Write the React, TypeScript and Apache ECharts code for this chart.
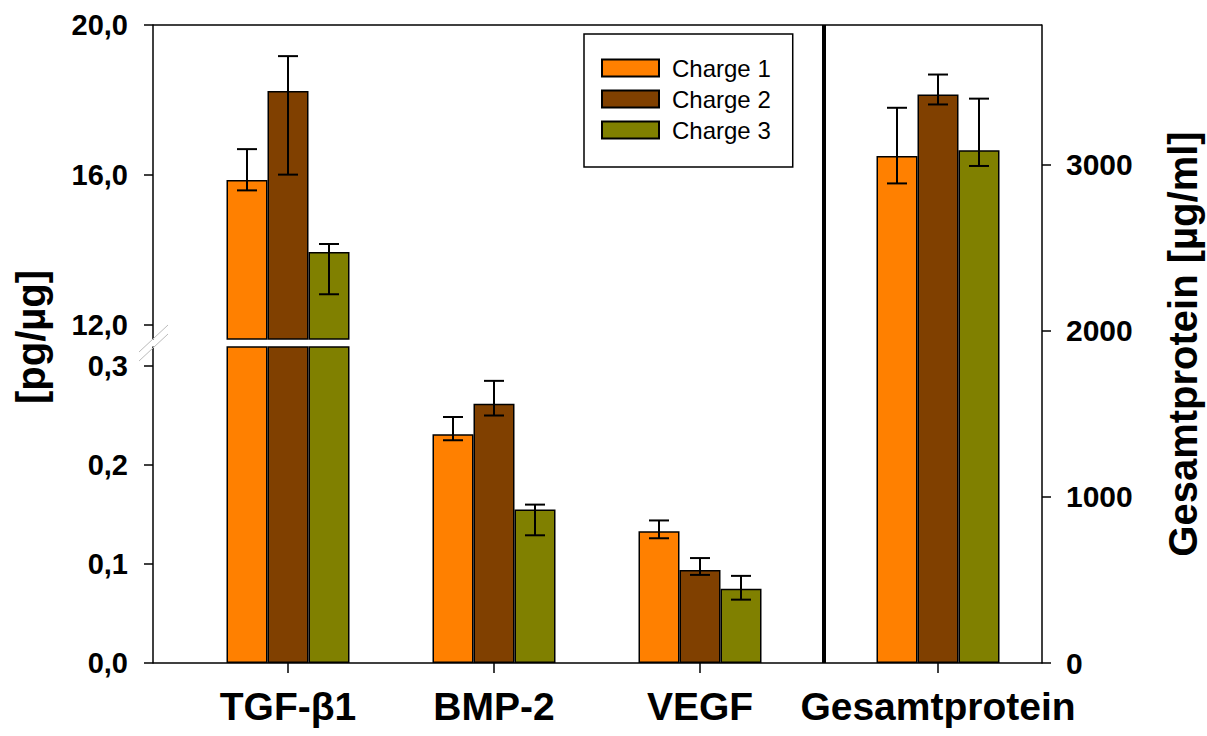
import React, { useEffect, useRef } from "react";
import * as echarts from "echarts";

// ---- data ----
const categories = ["TGF-β1", "BMP-2", "VEGF"];
const seriesNames = ["Charge 1", "Charge 2", "Charge 3"];
const colors = ["#FF8000", "#804000", "#808000"];

const charge1 = [15.87, 0.231, 0.133];
const charge2 = [18.24, 0.262, 0.094];
const charge3 = [13.95, 0.155, 0.075];
const charge1Low = [15.59, 0.225, 0.126];
const charge1High = [16.69, 0.2485, 0.144];
const charge2Low = [16.01, 0.25, 0.089];
const charge2High = [19.17, 0.285, 0.106];
const charge3Low = [12.82, 0.129, 0.064];
const charge3High = [14.16, 0.16, 0.088];

const totalCategory = ["Gesamtprotein"];
const totalValues = [3050, 3420, 3085];
const totalLow = [2885, 3360, 2990];
const totalHigh = [3340, 3540, 3395];

const lowerTicks = [0, 0.1, 0.2, 0.3];
const upperTicks = [12, 16, 20];
const rightTicks = [0, 1000, 2000, 3000];

const FONT = "Liberation Sans, Arial, sans-serif";
const BAR_W = 41;

export default function App() {
  const ref = useRef<HTMLDivElement>(null);

  useEffect(() => {
    if (!ref.current) return;
    const chart = echarts.init(ref.current, undefined, { renderer: "svg" });

    const values = [charge1, charge2, charge3];
    const lows = [charge1Low, charge2Low, charge3Low];
    const highs = [charge1High, charge2High, charge3High];

    const errRender = (offset: number) => (params: any, api: any) => {
      const x = api.value(0);
      const lo = api.coord([x, api.value(1)]);
      const hi = api.coord([x, api.value(2)]);
      const cx = lo[0] + offset;
      const cap = 10;
      const st = { stroke: "#000", lineWidth: 2 };
      return {
        type: "group",
        children: [
          { type: "line", shape: { x1: cx, y1: hi[1], x2: cx, y2: lo[1] }, style: st },
          { type: "line", shape: { x1: cx - cap, y1: hi[1], x2: cx + cap, y2: hi[1] }, style: st },
          { type: "line", shape: { x1: cx - cap, y1: lo[1], x2: cx + cap, y2: lo[1] }, style: st },
        ],
      };
    };

    const barStyle = (i: number) => ({
      color: colors[i],
      borderColor: "#000",
      borderWidth: 1.5,
    });

    const series: any[] = [];
    // lower grid (index 0) bars: all categories
    for (let i = 0; i < 3; i++) {
      series.push({
        type: "bar",
        name: seriesNames[i],
        xAxisIndex: 0,
        yAxisIndex: 0,
        data: values[i],
        barWidth: BAR_W,
        barGap: "0%",
        itemStyle: barStyle(i),
        clip: true,
      });
    }
    // upper grid (index 1) bars: only TGF
    for (let i = 0; i < 3; i++) {
      series.push({
        type: "bar",
        name: seriesNames[i],
        xAxisIndex: 1,
        yAxisIndex: 1,
        data: values[i].map((v, k) => (k === 0 ? v : null)),
        barWidth: BAR_W,
        barGap: "0%",
        itemStyle: barStyle(i),
        clip: true,
      });
    }
    // right grid (index 2) bars
    for (let i = 0; i < 3; i++) {
      series.push({
        type: "bar",
        name: seriesNames[i],
        xAxisIndex: 2,
        yAxisIndex: 2,
        data: [totalValues[i]],
        barWidth: BAR_W,
        barGap: "0%",
        itemStyle: barStyle(i),
        clip: true,
      });
    }
    // error bars
    for (let i = 0; i < 3; i++) {
      const off = (i - 1) * BAR_W;
      series.push({
        type: "custom",
        name: "errLow" + i,
        xAxisIndex: 0,
        yAxisIndex: 0,
        z: 5,
        renderItem: errRender(off),
        encode: { x: 0, y: [1, 2] },
        data: [1, 2].map((k) => [k, lows[i][k], highs[i][k]]),
      });
      series.push({
        type: "custom",
        name: "errUp" + i,
        xAxisIndex: 1,
        yAxisIndex: 1,
        z: 5,
        renderItem: errRender(off),
        encode: { x: 0, y: [1, 2] },
        data: [[0, lows[i][0], highs[i][0]]],
      });
      series.push({
        type: "custom",
        name: "errTot" + i,
        xAxisIndex: 2,
        yAxisIndex: 2,
        z: 5,
        renderItem: errRender(off),
        encode: { x: 0, y: [1, 2] },
        data: [[0, totalLow[i], totalHigh[i]]],
      });
    }

    const tickLabel = {
      color: "#000",
      fontFamily: FONT,
      fontWeight: "bold",
      fontSize: 29,
    };

    const catAxis = (gridIndex: number, data: string[], showLabel: boolean) => ({
      type: "category",
      gridIndex,
      data,
      boundaryGap: true,
      axisLine: { show: false },
      axisTick: {
        show: showLabel,
        alignWithLabel: true,
        length: 10,
        lineStyle: { color: "#000", width: 1.5 },
      },
      axisLabel: {
        show: showLabel,
        margin: 24,
        color: "#000",
        fontFamily: FONT,
        fontWeight: "bold",
        fontSize: 39,
      },
      splitLine: { show: false },
    });

    const leftFormatter = (dec: number) => (v: number) =>
      v.toFixed(dec).replace(".", ",");

    const option: any = {
      animation: false,
      backgroundColor: "#fff",
      grid: [
        { left: 185, top: 347, width: 618, height: 316 },
        { left: 185, top: 25, width: 618, height: 314 },
        { left: 834, top: 25, width: 208, height: 638 },
      ],
      xAxis: [
        catAxis(0, categories, true),
        catAxis(1, categories, false),
        catAxis(2, totalCategory, true),
      ],
      yAxis: [
        {
          type: "value",
          gridIndex: 0,
          min: 0,
          max: 0.3192,
          offset: 32,
          axisLine: { show: true, lineStyle: { color: "#000", width: 1.5 } },
          axisTick: {
            show: true,
            length: 9,
            customValues: lowerTicks,
            lineStyle: { color: "#000", width: 1.5 },
          },
          axisLabel: {
            ...tickLabel,
            margin: 25,
            customValues: lowerTicks,
            formatter: leftFormatter(1),
          },
          splitLine: { show: false },
        },
        {
          type: "value",
          gridIndex: 1,
          min: 11.627,
          max: 20,
          offset: 32,
          axisLine: { show: true, lineStyle: { color: "#000", width: 1.5 } },
          axisTick: {
            show: true,
            length: 9,
            customValues: upperTicks,
            lineStyle: { color: "#000", width: 1.5 },
          },
          axisLabel: {
            ...tickLabel,
            margin: 25,
            customValues: upperTicks,
            formatter: leftFormatter(1),
          },
          splitLine: { show: false },
        },
        {
          type: "value",
          gridIndex: 2,
          position: "right",
          min: 0,
          max: 3838,
          axisLine: { show: true, lineStyle: { color: "#000", width: 1.5 } },
          axisTick: {
            show: true,
            length: 9,
            customValues: rightTicks,
            lineStyle: { color: "#000", width: 1.5 },
          },
          axisLabel: {
            ...tickLabel,
            fontSize: 30,
            margin: 24,
            customValues: rightTicks,
            formatter: (v: number) => String(v),
          },
          splitLine: { show: false },
          name: "Gesamtprotein [µg/ml]",
          nameLocation: "middle",
          nameRotate: 90,
          nameGap: 121,
          nameTextStyle: {
            color: "#000",
            fontFamily: FONT,
            fontWeight: "bold",
            fontSize: 40,
          },
        },
      ],
      legend: {
        data: seriesNames,
        orient: "vertical",
        left: 584,
        top: 34,
        itemWidth: 57,
        itemHeight: 17,
        itemGap: 7,
        padding: [22, 22, 25, 17],
        borderColor: "#000",
        borderWidth: 1.5,
        backgroundColor: "#fff",
        icon: "rect",
        selectedMode: false,
        textStyle: {
          color: "#000",
          fontFamily: FONT,
          fontSize: 24,
          padding: [0, 0, 0, 8],
        },
      },
      graphic: [
        {
          type: "line",
          shape: { x1: 153, y1: 663, x2: 1042, y2: 663 },
          style: { stroke: "#000", lineWidth: 1.5 },
          z: 10,
        },
        {
          type: "line",
          shape: { x1: 153, y1: 25, x2: 1042, y2: 25 },
          style: { stroke: "#000", lineWidth: 1.5 },
          z: 10,
        },
        {
          type: "line",
          shape: { x1: 824, y1: 25, x2: 824, y2: 663 },
          style: { stroke: "#000", lineWidth: 4 },
          z: 10,
        },
        {
          type: "line",
          shape: { x1: 139, y1: 352, x2: 168, y2: 325 },
          style: { stroke: "#bbb", lineWidth: 1 },
          z: 10,
        },
        {
          type: "line",
          shape: { x1: 139, y1: 361, x2: 168, y2: 334 },
          style: { stroke: "#bbb", lineWidth: 1 },
          z: 10,
        },
        {
          type: "text",
          x: 31,
          y: 337,
          rotation: Math.PI / 2,
          style: {
            text: "[pg/µg]",
            fill: "#000",
            font: "bold 40px Liberation Sans, Arial, sans-serif",
            align: "center",
            verticalAlign: "middle",
          },
          z: 10,
        },
      ],
      series,
    };

    chart.setOption(option);
    return () => chart.dispose();
  }, []);

  return (
    <div
      ref={ref}
      style={{ position: "fixed", left: 0, top: 0, width: 1207, height: 736 }}
    />
  );
}
